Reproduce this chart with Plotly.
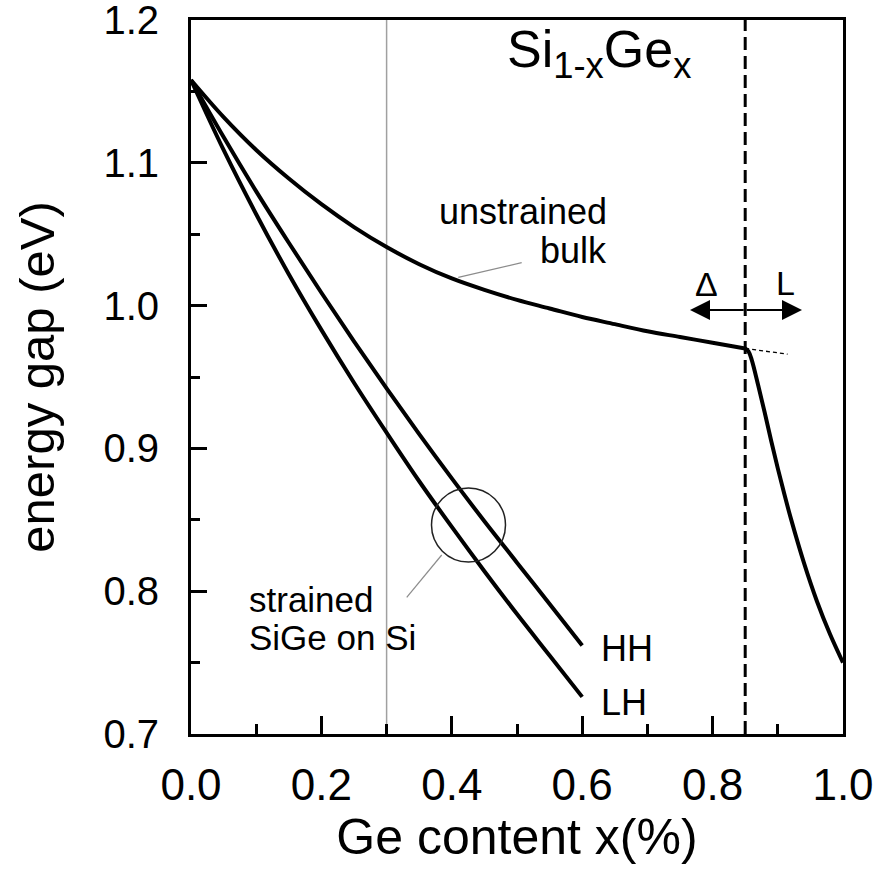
import plotly.graph_objects as go

# ---------------- data ----------------
x_bulk = [0.0, 0.05, 0.10, 0.15, 0.20, 0.25, 0.30, 0.35, 0.40, 0.45, 0.50,
          0.55, 0.60, 0.65, 0.70, 0.75, 0.80, 0.85]
y_bulk = [1.158, 1.132, 1.109, 1.089, 1.071, 1.055, 1.041, 1.029, 1.019, 1.011,
          1.004, 0.998, 0.992, 0.987, 0.982, 0.978, 0.974, 0.970]

x_L = [0.85, 0.855, 0.86, 0.87, 0.88, 0.89, 0.90, 0.91, 0.92, 0.94, 0.96, 0.98, 1.00]
y_L = [0.970, 0.968, 0.962, 0.944, 0.925, 0.905, 0.886, 0.868, 0.851, 0.820, 0.793, 0.770, 0.750]

x_ext = [0.85, 0.915]
y_ext = [0.970, 0.966]

x_str = [0.0, 0.05, 0.10, 0.15, 0.20, 0.25, 0.30, 0.35, 0.40, 0.45, 0.50, 0.55, 0.60]
y_HH = [1.158, 1.118, 1.080, 1.044, 1.009, 0.975, 0.942, 0.910, 0.879, 0.849, 0.820, 0.791, 0.762]
y_LH = [1.158, 1.109, 1.064, 1.022, 0.983, 0.946, 0.911, 0.877, 0.845, 0.814, 0.784, 0.755, 0.726]

x_crossover = 0.85
x_marker_line = 0.3

x_tickvals = [0.0, 0.2, 0.4, 0.6, 0.8, 1.0]
x_ticktext = ["0.0", "0.2", "0.4", "0.6", "0.8", "1.0"]
y_tickvals = [0.7, 0.8, 0.9, 1.0, 1.1, 1.2]
y_ticktext = ["0.7", "0.8", "0.9", "1.0", "1.1", "1.2"]

# ---------------- helpers for placing decorations ----------------
L_M, R_M, T_M, B_M = 191, 42, 20, 140
W, H = 885, 874
PW, PH = W - L_M - R_M, H - T_M - B_M


def dx(px):
    return (px - L_M) / PW


def dy(py):
    return 1.2 - (py - T_M) / PH * 0.5


FONT = "Liberation Sans, Arial, sans-serif"

fig = go.Figure()
line_style = dict(color="black", width=4)
fig.add_trace(go.Scatter(x=x_bulk, y=y_bulk, mode="lines", line=dict(line_style, shape="spline"),
                         showlegend=False, hoverinfo="skip"))
fig.add_trace(go.Scatter(x=x_L, y=y_L, mode="lines", line=dict(line_style, shape="spline"),
                         showlegend=False, hoverinfo="skip"))
fig.add_trace(go.Scatter(x=x_ext, y=y_ext, mode="lines", line=dict(color="black", width=1.3, dash="4px,3px"),
                         showlegend=False, hoverinfo="skip"))
fig.add_trace(go.Scatter(x=x_str, y=y_HH, mode="lines", line=dict(line_style, shape="spline"),
                         showlegend=False, hoverinfo="skip"))
fig.add_trace(go.Scatter(x=x_str, y=y_LH, mode="lines", line=dict(line_style, shape="spline"),
                         showlegend=False, hoverinfo="skip"))

shapes = [
    dict(type="line", xref="x", yref="paper", x0=x_marker_line, x1=x_marker_line, y0=0, y1=1,
         line=dict(color="#a0a0a0", width=1.5), layer="below"),
    dict(type="line", xref="x", yref="paper", x0=x_crossover, x1=x_crossover, y0=0, y1=1,
         line=dict(color="black", width=3, dash="13px,6px")),
    dict(type="circle", xref="x", yref="y", xsizemode="pixel", ysizemode="pixel",
         xanchor=dx(468.5), yanchor=dy(525), x0=-37, x1=37, y0=-37, y1=37,
         line=dict(color="#222222", width=1.5)),
    dict(type="line", xref="x", yref="y", x0=dx(458.3), y0=dy(277.3), x1=dx(521.7), y1=dy(262.7),
         line=dict(color="#8c8c8c", width=1.2)),
    dict(type="line", xref="x", yref="y", x0=dx(441.7), y0=dy(555), x1=dx(406.7), y1=dy(597.3),
         line=dict(color="#8c8c8c", width=1.2)),
]

ann_font = dict(family=FONT, size=36, color="black")
annotations = [
    dict(x=dx(505), y=dy(53), xref="x", yref="y", xanchor="left", yanchor="middle",
         text="Si<sub>1-x</sub>Ge<sub>x</sub>", showarrow=False, font=dict(family=FONT, size=52, color="black")),
    dict(x=dx(609), y=dy(211), xref="x", yref="y", xanchor="right", yanchor="middle",
         text="unstrained", showarrow=False, font=ann_font, height=38),
    dict(x=dx(609), y=dy(250), xref="x", yref="y", xanchor="right", yanchor="middle",
         text="bulk", showarrow=False, font=ann_font, height=38),
    dict(x=dx(247), y=dy(599), xref="x", yref="y", xanchor="left", yanchor="middle",
         text="strained", showarrow=False, font=dict(family=FONT, size=35, color="black"), height=35),
    dict(x=dx(247), y=dy(637), xref="x", yref="y", xanchor="left", yanchor="middle",
         text="SiGe on Si", showarrow=False, font=dict(family=FONT, size=35, color="black"), height=35),
    dict(x=dx(599), y=dy(648), xref="x", yref="y", xanchor="left", yanchor="middle",
         text="HH", showarrow=False, font=ann_font),
    dict(x=dx(599), y=dy(702), xref="x", yref="y", xanchor="left", yanchor="middle",
         text="LH", showarrow=False, font=ann_font),
    dict(x=dx(706), y=dy(284), xref="x", yref="y", xanchor="center", yanchor="middle",
         text="Δ", showarrow=False, font=dict(family=FONT, size=34, color="black")),
    dict(x=dx(785), y=dy(283), xref="x", yref="y", xanchor="center", yanchor="middle",
         text="L", showarrow=False, font=dict(family=FONT, size=34, color="black")),
    dict(x=dx(690), y=dy(310), ax=x_crossover, ay=dy(310), xref="x", yref="y", axref="x", ayref="y",
         text="", showarrow=True, arrowhead=2, arrowsize=2, arrowwidth=2, arrowcolor="black"),
    dict(x=dx(802), y=dy(310), ax=x_crossover, ay=dy(310), xref="x", yref="y", axref="x", ayref="y",
         text="", showarrow=True, arrowhead=2, arrowsize=2, arrowwidth=2, arrowcolor="black"),
]

fig.update_layout(
    width=W, height=H,
    margin=dict(l=L_M, r=R_M, t=T_M, b=B_M, autoexpand=False),
    paper_bgcolor="white", plot_bgcolor="white",
    font=dict(family=FONT, color="black"),
    shapes=shapes, annotations=annotations,
    xaxis=dict(range=[0, 1], showgrid=False, zeroline=False,
               showline=True, linewidth=3, linecolor="black", mirror=True,
               ticks="inside", ticklen=18, tickwidth=3, tickcolor="black",
               tickvals=x_tickvals, ticktext=x_ticktext, ticklabeloverflow="allow",
               tickfont=dict(family=FONT, size=44, color="black"), ticklabelstandoff=10,
               minor=dict(tickvals=[0.1, 0.3, 0.5, 0.7, 0.9], ticks="inside", ticklen=10,
                          tickwidth=3, tickcolor="black", showgrid=False),
               title=dict(text="Ge content x(%)", font=dict(family=FONT, size=50, color="black"), standoff=12)),
    yaxis=dict(range=[0.7, 1.2], showgrid=False, zeroline=False,
               showline=True, linewidth=3, linecolor="black", mirror=True,
               ticks="inside", ticklen=16, tickwidth=3, tickcolor="black",
               tickvals=y_tickvals, ticktext=y_ticktext, ticklabeloverflow="allow",
               tickfont=dict(family=FONT, size=40, color="black"), ticklabelstandoff=21,
               minor=dict(tickvals=[0.75, 0.85, 0.95, 1.05, 1.15], ticks="inside", ticklen=9,
                          tickwidth=3, tickcolor="black", showgrid=False),
               title=dict(text="energy gap (eV)", font=dict(family=FONT, size=49, color="black"), standoff=34)),
)

fig.write_html("out.html")
